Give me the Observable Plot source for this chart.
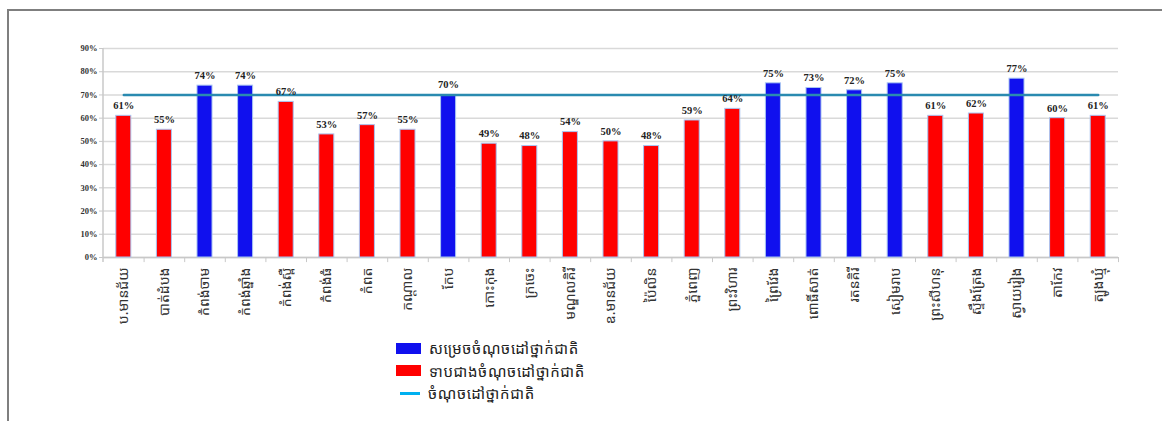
<!DOCTYPE html>
<html>
<head>
<meta charset="utf-8">
<script src="https://cdn.jsdelivr.net/npm/d3@7"></script>
<script src="https://cdn.jsdelivr.net/npm/@observablehq/plot@0.6"></script>
<style>
  html, body { margin: 0; padding: 0; background: #fff; }
  #wrap { position: relative; width: 1162px; height: 421px; overflow: hidden; }
  #frame { position: absolute; left: 7px; top: 9px; right: -10px; bottom: -10px;
           border-left: 2px solid #7f7f7f; border-top: 2px solid #7f7f7f; }
  #chart { position: absolute; left: 0; top: 0; }
  #legend { position: absolute; left: 396px; top: 337px;
            font-family: "Noto Sans Khmer", "Khmer OS", "Noto Sans", sans-serif; font-size: 15px; color: #222; letter-spacing: 0.6px; }
  .item { display: flex; align-items: center; height: 22.5px; }
  .sw { width: 25px; height: 11px; margin-right: 8px; }
  .ln { width: 20px; height: 3px; margin: 0 8px 0 4px; background: #00b0f0; }
</style>
</head>
<body>
<div id="wrap">
  <div id="frame"></div>
  <div id="chart"></div>
  <div id="legend"></div>
</div>
<script>
const provinces = [
  "ប.មានជ័យ", "បាត់ដំបង", "កំពង់ចាម", "កំពង់ឆ្នាំង", "កំពង់ស្ពឺ", "កំពង់ធំ", "កំពត", "កណ្តាល", "កែប",
  "កោះកុង", "ក្រចេះ", "មណ្ឌលគិរី", "ឧ.មានជ័យ", "ប៉ៃលិន", "ភ្នំពេញ", "ព្រះវិហារ", "ព្រៃវែង", "ពោធិ៍សាត់",
  "រតនគិរី", "សៀមរាប", "ព្រះសីហនុ", "ស្ទឹងត្រែង", "ស្វាយរៀង", "តាកែវ", "ត្បូងឃ្មុំ"
];
const rates = [61, 55, 74, 74, 67, 53, 57, 55, 70, 49, 48, 54, 50, 48, 59, 64, 75, 73, 72, 75, 61, 62, 77, 60, 61];
const target = 70;
const yTicks = [0, 10, 20, 30, 40, 50, 60, 70, 80, 90];
const legendLabels = ["សម្រេចចំណុចដៅថ្នាក់ជាតិ", "ទាបជាងចំណុចដៅថ្នាក់ជាតិ", "ចំណុចដៅថ្នាក់ជាតិ"];
const statusColors = ["#1010ee", "#ff0000"];
const targetColor = "#2a8ab0";

const data = provinces.map((p, i) => ({
  province: p,
  rate: rates[i],
  status: rates[i] >= target ? legendLabels[0] : legendLabels[1]
}));
const targetLine = provinces.map(p => ({province: p, value: target}));

const W = 1162, H = 330, ML = 103, MR = 44, MT = 48, MB = 73;
const step = (W - ML - MR) / provinces.length;

const chart = Plot.plot({
  width: W,
  height: H,
  marginTop: MT,
  marginBottom: MB,
  marginLeft: ML,
  marginRight: MR,
  style: {background: "transparent", overflow: "visible"},
  x: {type: "band", domain: provinces, paddingInner: 0.63, paddingOuter: 0.315, round: false, label: null},
  y: {domain: [0, 90], ticks: yTicks, label: null},
  color: {domain: legendLabels.slice(0, 2), range: statusColors},
  marks: [
    Plot.gridY(yTicks, {stroke: "#d9d9d9", strokeOpacity: 1, strokeWidth: 1.5}),
    Plot.axisY(yTicks, {tickSize: 4, tickPadding: 2, stroke: "#c8c8c8", tickFormat: d => d + "%",
      fontFamily: "Liberation Serif", fontWeight: "bold", fontSize: 8.5, fill: "#333", label: null}),
    Plot.ruleY([0], {stroke: "#c8c8c8", strokeWidth: 1.5}),
    Plot.axisX({tickSize: 0, tickRotate: -90, tickPadding: 10,
      fontFamily: "Noto Sans Khmer, Khmer OS, Noto Sans, sans-serif", fontSize: 14, fill: "#333", label: null}),
    Plot.ruleX(provinces, {x: d => d, dx: step / 2, y1: 0, y2: -2.2, stroke: "#c8c8c8", clip: false}),
    Plot.barY(data, {x: "province", y: "rate", fill: "status", stroke: "#a9c5f2", strokeWidth: 1}),
    Plot.lineY(targetLine, {x: "province", y: "value", stroke: targetColor, strokeWidth: 2.5}),
    Plot.text(data, {x: "province", y: "rate", text: d => d.rate + "%", dy: -10,
      fontFamily: "Liberation Serif", fontWeight: "bold", fontSize: 10.5, fill: "#222"})
  ]
});
document.getElementById("chart").appendChild(chart);

// y-axis line
const svg = d3.select(chart);
svg.append("line").attr("x1", ML).attr("x2", ML).attr("y1", MT).attr("y2", H - MB + 5)
  .attr("stroke", "#c8c8c8").attr("stroke-width", 1.5);

const legend = document.getElementById("legend");
legendLabels.forEach((lab, i) => {
  const row = document.createElement("div");
  row.className = "item";
  const sw = document.createElement("div");
  if (i < 2) { sw.className = "sw"; sw.style.background = statusColors[i]; }
  else { sw.className = "ln"; }
  const t = document.createElement("span");
  t.textContent = lab;
  row.appendChild(sw); row.appendChild(t);
  legend.appendChild(row);
});
</script>
</body>
</html>
